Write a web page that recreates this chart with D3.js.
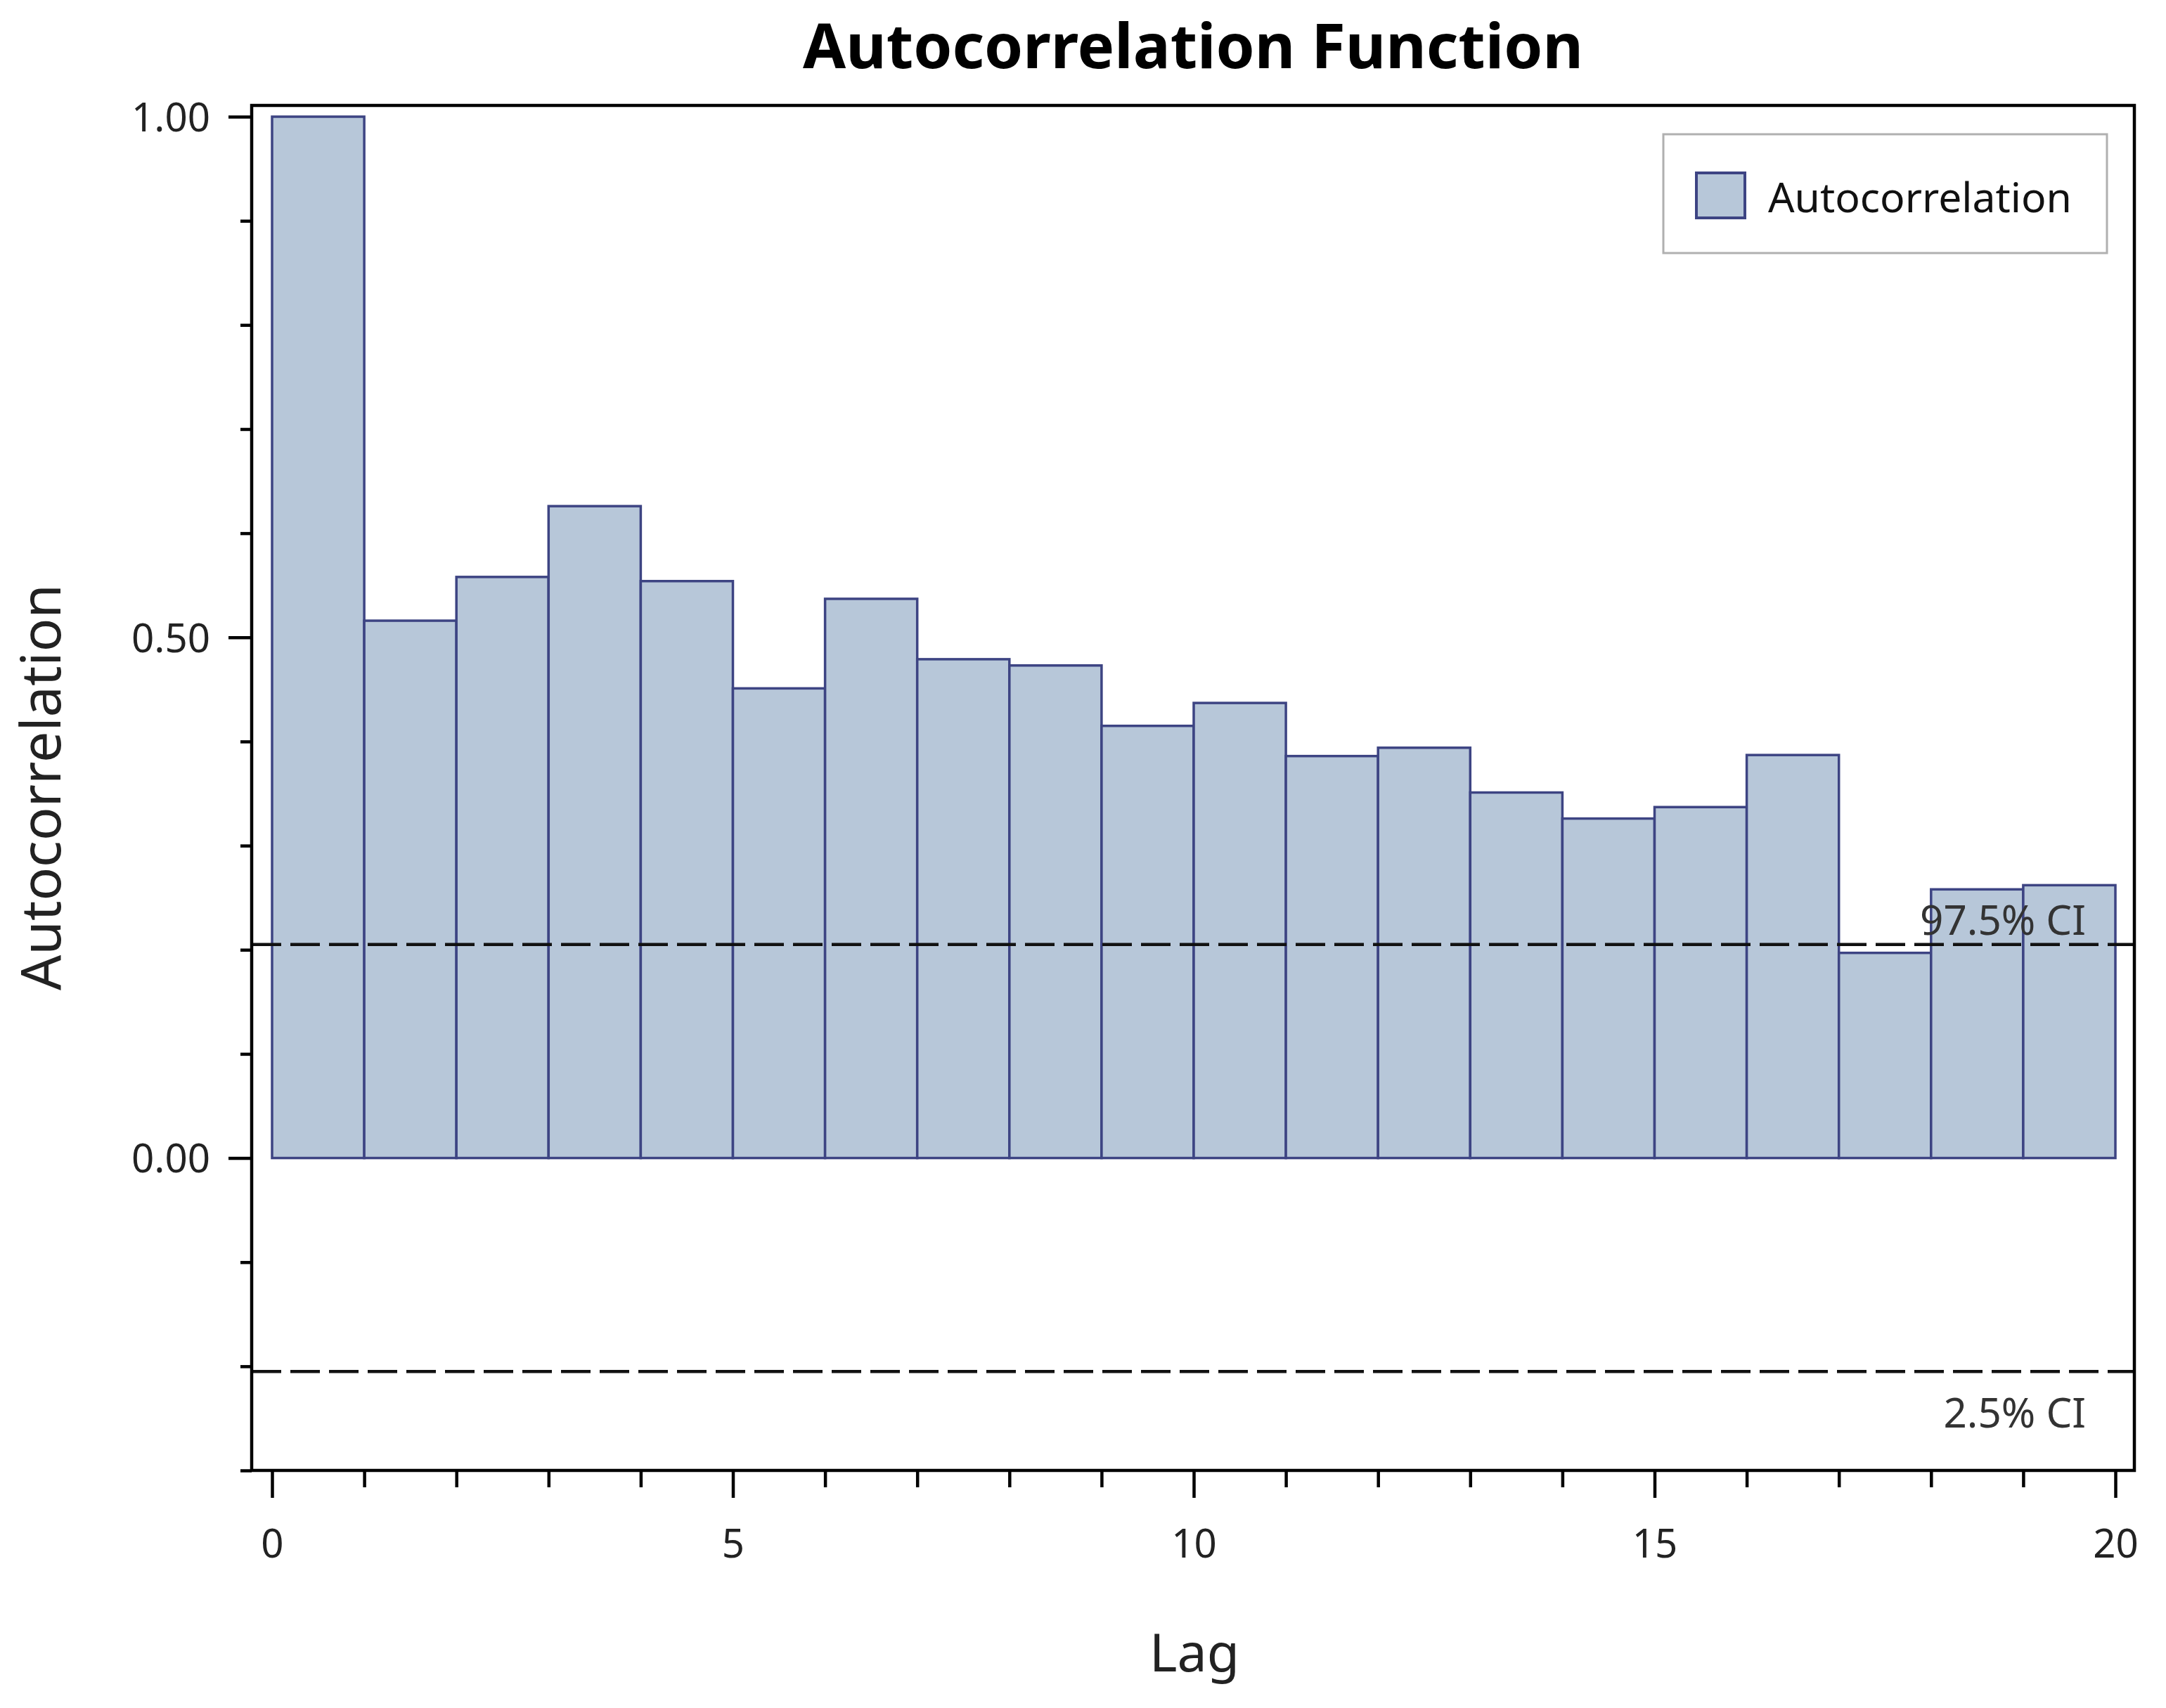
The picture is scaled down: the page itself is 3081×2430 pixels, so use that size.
<!DOCTYPE html>
<html>
<head>
<meta charset="utf-8">
<script src="https://cdn.jsdelivr.net/npm/d3@7"></script>
<style>
  html, body { margin: 0; padding: 0; background: #ffffff; }
  svg { display: block; }
  text { font-family: "Noto Sans", "Open Sans", sans-serif; }
</style>
</head>
<body>
<svg id="chart" width="3081" height="2430"></svg>
<script>
// ---------------- data ----------------
const lags = [0, 1, 2, 3, 4, 5, 6, 7, 8, 9, 10, 11, 12, 13, 14, 15, 16, 17, 18, 19];
const acfValues = [1.000, 0.516, 0.558, 0.626, 0.554, 0.451, 0.537, 0.479, 0.473, 0.415,
                   0.437, 0.386, 0.394, 0.351, 0.326, 0.337, 0.387, 0.197, 0.258, 0.262];
const ciUpper = 0.205;
const ciLower = -0.205;
const ciLabels = ["97.5% CI", "2.5% CI"];
const yMajorTicks = [0, 0.5, 1.0];
const yMinorTicks = [-0.3, -0.2, -0.1, 0.1, 0.2, 0.3, 0.4, 0.6, 0.7, 0.8, 0.9];
const xMajorTicks = [0, 5, 10, 15, 20];
const xMinorTicks = [1, 2, 3, 4, 6, 7, 8, 9, 11, 12, 13, 14, 16, 17, 18, 19];
const titleText = "Autocorrelation Function";
const xLabelText = "Lag";
const yLabelText = "Autocorrelation";
const legendLabel = "Autocorrelation";

// ---------------- layout ----------------
const svg = d3.select("#chart");
const frame = { left: 358, right: 3036, top: 150, bottom: 2092 };
const fill = "#b7c7d9";
const stroke = "#3d4483";

const x = d3.scaleLinear().domain([-0.2212, 20.2059]).range([frame.left, frame.right]);
const y = d3.scaleLinear().domain([-0.3, 1.0108]).range([frame.bottom, frame.top]);

function fitWidth(sel, target) {
  sel.attr("font-size", 100);
  const w = sel.node().getComputedTextLength();
  sel.attr("font-size", 100 * target / w);
  return 100 * target / w;
}

// bars
svg.append("g").selectAll("rect")
  .data(lags)
  .join("rect")
  .attr("x", d => x(d))
  .attr("width", d => x(d + 1) - x(d))
  .attr("y", (d, i) => y(acfValues[i]))
  .attr("height", (d, i) => y(0) - y(acfValues[i]))
  .attr("fill", fill)
  .attr("stroke", stroke)
  .attr("stroke-width", 3.5);

// CI lines
svg.append("g").selectAll("line")
  .data([ciUpper, ciLower])
  .join("line")
  .attr("x1", frame.left).attr("x2", frame.right)
  .attr("y1", d => y(d)).attr("y2", d => y(d))
  .attr("stroke", "#111")
  .attr("stroke-width", 4.5)
  .attr("stroke-dasharray", "42,13");

// CI labels
const ciUp = svg.append("text")
  .attr("x", 2967).attr("y", y(ciUpper) - 14)
  .attr("text-anchor", "end").attr("fill", "#333")
  .text(ciLabels[0]);
const ciFs = fitWidth(ciUp, 236);
svg.append("text")
  .attr("x", 2967).attr("y", y(ciLower) + 80)
  .attr("text-anchor", "end").attr("fill", "#333")
  .attr("font-size", ciFs)
  .text(ciLabels[1]);

// frame
svg.append("rect")
  .attr("x", frame.left).attr("y", frame.top)
  .attr("width", frame.right - frame.left).attr("height", frame.bottom - frame.top)
  .attr("fill", "none").attr("stroke", "#000").attr("stroke-width", 4.5);

// y axis
const yMajor = svg.append("g").attr("transform", `translate(${frame.left},0)`)
  .call(d3.axisLeft(y).tickValues(yMajorTicks).tickSize(33).tickPadding(26).tickFormat(d3.format(".2f")));
const yMinor = svg.append("g").attr("transform", `translate(${frame.left},0)`)
  .call(d3.axisLeft(y).tickValues(yMinorTicks).tickSize(16).tickFormat(""));
[yMajor, yMinor].forEach(g => {
  g.select(".domain").remove();
  g.selectAll(".tick line").attr("stroke", "#000").attr("stroke-width", 4.5);
});
yMajor.selectAll(".tick text")
  .attr("fill", "#222").attr("font-family", "\"Noto Sans\", sans-serif")
  .attr("dy", "0.36em");
const probe = svg.append("text").text("1.00");
const tickFs = fitWidth(probe, 112);
probe.remove();
yMajor.selectAll(".tick text").attr("font-size", tickFs);

// x axis
const xMajor = svg.append("g").attr("transform", `translate(0,${frame.bottom})`)
  .call(d3.axisBottom(x).tickValues(xMajorTicks).tickSize(39).tickPadding(0).tickFormat(d3.format("d")));
const xMinor = svg.append("g").attr("transform", `translate(0,${frame.bottom})`)
  .call(d3.axisBottom(x).tickValues(xMinorTicks).tickSize(24).tickFormat(""));
[xMajor, xMinor].forEach(g => {
  g.select(".domain").remove();
  g.selectAll(".tick line").attr("stroke", "#000").attr("stroke-width", 4.5);
});
xMajor.selectAll(".tick text")
  .attr("fill", "#222").attr("font-family", "\"Noto Sans\", sans-serif")
  .attr("font-size", tickFs)
  .attr("y", 2216 - frame.bottom).attr("dy", 0);

// title
const title = svg.append("text")
  .attr("x", (frame.left + frame.right) / 2).attr("y", 97)
  .attr("text-anchor", "middle").attr("font-weight", "bold").attr("fill", "#000")
  .text(titleText);
fitWidth(title, 1110);

// x label
const xl = svg.append("text")
  .attr("x", 1699).attr("y", 2378)
  .attr("text-anchor", "middle").attr("fill", "#222")
  .text(xLabelText);
fitWidth(xl, 128);

// y label
const yl = svg.append("text")
  .attr("transform", "translate(86,1120) rotate(-90)")
  .attr("text-anchor", "middle").attr("fill", "#222")
  .text(yLabelText);
fitWidth(yl, 578);

// legend
const lg = svg.append("g");
lg.append("rect")
  .attr("x", 2366).attr("y", 191).attr("width", 631).attr("height", 169)
  .attr("fill", "#fff").attr("stroke", "#b0b0b0").attr("stroke-width", 3);
lg.append("rect")
  .attr("x", 2413).attr("y", 246).attr("width", 69).attr("height", 64)
  .attr("fill", fill).attr("stroke", stroke).attr("stroke-width", 4);
const lt = lg.append("text")
  .attr("x", 2515).attr("y", 281).attr("dy", "0.36em")
  .attr("fill", "#111")
  .text(legendLabel);
fitWidth(lt, 432);
</script>
</body>
</html>
